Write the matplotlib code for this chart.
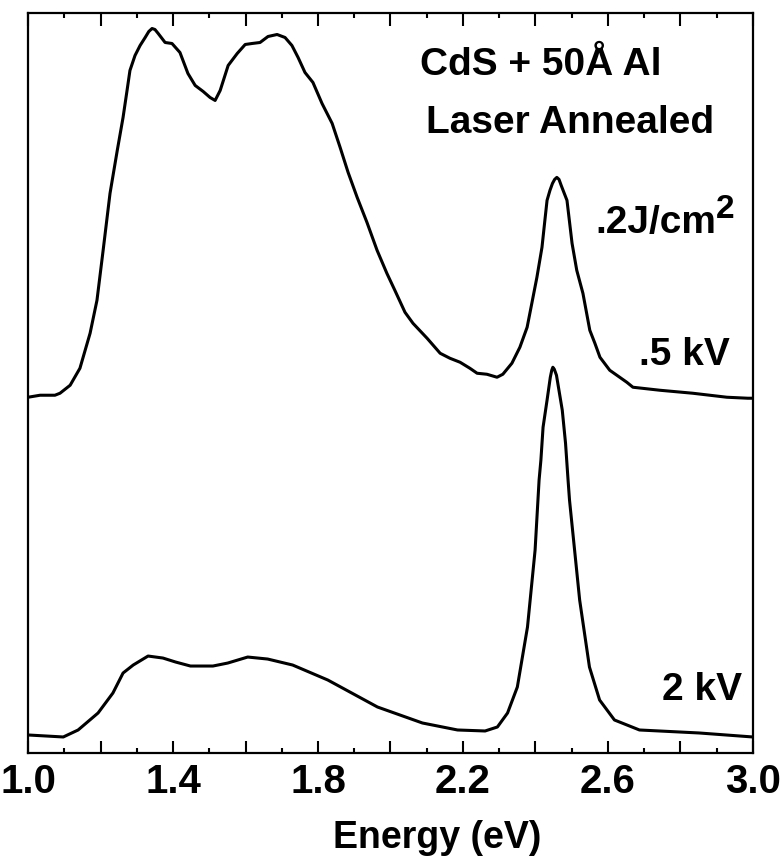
import numpy as np
import matplotlib
matplotlib.use("Agg")
from matplotlib import pyplot as plt

# 能量 (eV) 与强度 (任意单位)
# .5 kV 曲线
e_05kv = [1.000, 1.033, 1.074, 1.088, 1.116, 1.143, 1.171, 1.190, 1.207, 1.226,
          1.246, 1.262, 1.273, 1.281, 1.295, 1.309, 1.323, 1.333, 1.342, 1.350,
          1.359, 1.378, 1.397, 1.419, 1.441, 1.461, 1.483, 1.502, 1.516, 1.530,
          1.552, 1.577, 1.599, 1.618, 1.640, 1.662, 1.687, 1.709, 1.728, 1.745,
          1.764, 1.786, 1.811, 1.839, 1.861, 1.883, 1.908, 1.935, 1.963, 1.990,
          2.012, 2.040, 2.062, 2.101, 2.137, 2.164, 2.192, 2.219, 2.239, 2.266,
          2.294, 2.310, 2.335, 2.357, 2.377, 2.390, 2.404, 2.418, 2.426, 2.432,
          2.440, 2.447, 2.453, 2.459, 2.465, 2.471, 2.487, 2.501, 2.514, 2.531,
          2.550, 2.564, 2.578, 2.605, 2.652, 2.669, 2.743, 2.834, 2.928, 2.986,
          3.000]
i_05kv = [356, 358, 358, 360, 368, 385, 420, 453, 503, 560,
          603, 636, 663, 683, 698, 708, 716, 722, 725, 724,
          720, 711, 710, 701, 680, 668, 662, 656, 653, 663,
          688, 700, 709, 710, 711, 717, 719, 716, 708, 696,
          681, 671, 650, 630, 606, 581, 556, 531, 503, 480,
          463, 441, 430, 415, 400, 395, 391, 385, 380, 379,
          376, 379, 390, 406, 426, 450, 476, 506, 533, 553,
          563, 570, 574, 576, 574, 568, 553, 510, 483, 460,
          423, 410, 396, 383, 371, 366, 363, 360, 356, 355,
          355]

# 2 kV 曲线
e_2kv = [1.000, 1.097, 1.138, 1.193, 1.234, 1.262, 1.290, 1.331, 1.372, 1.407,
         1.448, 1.510, 1.551, 1.606, 1.661, 1.730, 1.827, 1.964, 2.088, 2.185,
         2.261, 2.295, 2.323, 2.350, 2.378, 2.399, 2.410, 2.415, 2.421, 2.432,
         2.441, 2.445, 2.448, 2.452, 2.458, 2.474, 2.483, 2.490, 2.494, 2.522,
         2.549, 2.577, 2.618, 2.687, 2.852, 3.000]
i_2kv = [18, 16, 23, 40, 60, 80, 88, 97, 95, 91,
         87, 87, 90, 96, 94, 88, 73, 46, 30, 23,
         22, 26, 40, 66, 126, 203, 273, 293, 326, 353,
         376, 383, 386, 384, 378, 343, 310, 273, 253, 153,
         86, 53, 33, 23, 20, 16]

tick_pos = np.arange(1.0, 3.01, 0.2)
tick_labels = ['1.0', '', '1.4', '', '1.8', '', '2.2', '', '2.6', '', '3.0']

bold_font = ['Liberation Sans', 'DejaVu Sans']
narrow_font = ['Liberation Sans Narrow', 'Liberation Sans', 'DejaVu Sans']

fig = plt.figure(figsize=(7.81, 8.63), dpi=100)
ax = fig.add_axes([0.036, 0.1275, 0.928, 0.858])

ax.plot(e_05kv, i_05kv, color='black', linewidth=2.2, solid_joinstyle='round')
ax.plot(e_2kv, i_2kv, color='black', linewidth=2.2, solid_joinstyle='round')

ax.set_xlim(1.0, 3.0)
ax.set_ylim(0, 741)
ax.set_yticks([])
ax.set_xticks(tick_pos)
ax.set_xticklabels(tick_labels, fontsize=29, fontweight='bold', family=narrow_font)
ax.set_xticks(np.arange(1.1, 3.0, 0.2), minor=True)
ax.tick_params(axis='x', which='major', direction='in', length=9, width=1.5,
               top=True, pad=7)
ax.tick_params(axis='x', which='minor', direction='in', length=3.5, width=1.5,
               top=True)
for s in ax.spines.values():
    s.set_linewidth(1.6)

# x轴标题
fig.text(437 / 781, 1 - 838 / 863, 'Energy (eV)', fontsize=27, fontweight='bold',
         family=bold_font, ha='center', va='center')

ax.text(2.415, 688, 'CdS + 50Å Al', fontsize=28, fontweight='bold',
        family=bold_font, ha='center', va='center')
ax.text(2.495, 630, 'Laser Annealed', fontsize=28, fontweight='bold',
        family=bold_font, ha='center', va='center')
t = ax.text(2.565, 530, '.2J/cm', fontsize=28, fontweight='bold',
            family=bold_font, ha='left', va='center')
ax.annotate('2', xy=(1.0, 0.45), xycoords=t, fontsize=24, fontweight='bold',
            family=bold_font, ha='left', va='bottom')
ax.text(2.810, 398, '.5 kV', fontsize=28, fontweight='bold',
        family=bold_font, ha='center', va='center')
ax.text(2.860, 63, '2 kV', fontsize=28, fontweight='bold',
        family=bold_font, ha='center', va='center')

fig.savefig('out.png', dpi=100)
